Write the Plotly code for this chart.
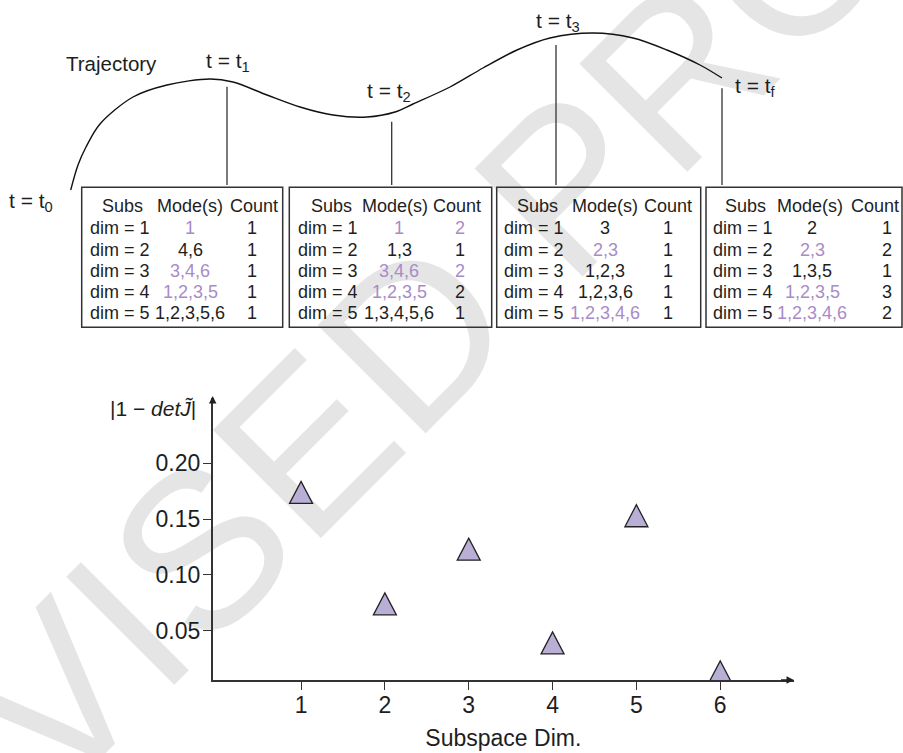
import plotly.graph_objects as go

W, H = 903, 753
FONT = "Liberation Sans, Arial, Helvetica, sans-serif"
INK = "#1e1e1e"
LINE = "#333333"
PURPLE = "#a98bc9"
TRI_FILL = "#b9aed6"

# ---- scatter data: reconstruction error per subspace dimension ----
subspace_dim = [1, 2, 3, 4, 5, 6]
det_error = [0.174, 0.074, 0.123, 0.039, 0.153, 0.013]
y_ticks = [0.05, 0.10, 0.15, 0.20]

# ---- trajectory snapshots and their subspace tables ----
time_labels = ["t = t<sub>1</sub>", "t = t<sub>2</sub>", "t = t<sub>3</sub>", "t = t<sub>f</sub>"]
dim_labels = ["dim = 1", "dim = 2", "dim = 3", "dim = 4", "dim = 5"]
header_labels = ["Subs", "Mode(s)", "Count"]

modes_t1 = ["1", "4,6", "3,4,6", "1,2,3,5", "1,2,3,5,6"]
modes_t2 = ["1", "1,3", "3,4,6", "1,2,3,5", "1,3,4,5,6"]
modes_t3 = ["3", "2,3", "1,2,3", "1,2,3,6", "1,2,3,4,6"]
modes_tf = ["2", "2,3", "1,3,5", "1,2,3,5", "1,2,3,4,6"]

counts_t1 = [1, 1, 1, 1, 1]
counts_t2 = [2, 1, 2, 2, 1]
counts_t3 = [1, 1, 1, 1, 1]
counts_tf = [1, 2, 1, 3, 2]

# recurring mode sets are highlighted
mode_hl_t1 = [True, False, True, True, False]
mode_hl_t2 = [True, False, True, True, False]
mode_hl_t3 = [False, True, False, False, True]
mode_hl_tf = [False, True, False, True, True]
count_hl_t2 = [True, False, True, False, False]
count_hl_none = [False] * 5

tables = [
    (modes_t1, counts_t1, mode_hl_t1, count_hl_none),
    (modes_t2, counts_t2, mode_hl_t2, count_hl_t2),
    (modes_t3, counts_t3, mode_hl_t3, count_hl_none),
    (modes_tf, counts_tf, mode_hl_tf, count_hl_none),
]

# ---- diagram layout (page pixel coordinates) ----
traj_x = [70.7, 78, 86, 100, 133, 167, 210, 233, 267, 300, 333, 367, 395, 413,
          450, 483, 517, 550, 593, 633, 667, 700, 722]
traj_y = [190, 165, 147, 124, 97, 85, 79, 82, 95, 107, 115, 117, 112, 104,
          87, 68, 50, 38, 33, 38, 50, 65, 78]

box_left = [81.7, 289.3, 496.7, 706.0]
box_right = [282.7, 491.7, 700.7, 902.0]
box_top, box_bottom = 187.3, 327.3
col_dim = [88.3, 296.0, 501.7, 710.7]
col_subs = [122.5, 331.7, 537.8, 745.3]
col_mode_hdr = [190.3, 395.0, 604.7, 809.5]
col_mode = [190.0, 399.0, 605.0, 812.0]
col_count_hdr = [253.8, 456.7, 668.3, 874.5]
col_count = [252.0, 460.0, 668.3, 886.7]
header_y = 206.0
row_y = [228.5, 249.8, 271.0, 292.2, 313.4]

connector_x = [227.0, 391.7, 556.0, 722.0]
connector_top = [86.7, 121.7, 45.0, 88.3]
time_label_pos = [(228, 62), (389, 92), (558, 22), (755, 87)]

watermark_center = (428, 322)


def px(x):
    return x / W


def py(y):
    return 1 - y / H


fig = go.Figure()

# watermark, drawn first so that everything else sits on top of it;
# the (invisible) carrier bar stays inside the page so its label is always rendered
wx, wy = watermark_center
fig.add_trace(go.Bar(
    x=[wx], y=[600], base=[wy - 300], width=[700],
    text=["REVISED PROOF"], textposition="inside", insidetextanchor="middle",
    textangle=-45, constraintext="none", cliponaxis=False,
    insidetextfont=dict(family=FONT, size=222, color="#e5e5e5"),
    marker=dict(color="rgba(0,0,0,0)", line=dict(width=0)),
    hoverinfo="skip", xaxis="x", yaxis="y", showlegend=False,
))

# trajectory curve
fig.add_trace(go.Scatter(
    x=traj_x, y=traj_y, mode="lines", line=dict(color="#111", width=1.4, shape="spline", smoothing=0.9),
    hoverinfo="skip", xaxis="x", yaxis="y", showlegend=False,
))

# data points (triangles are drawn as pixel-sized shapes anchored on these values)
fig.add_trace(go.Scatter(
    x=subspace_dim, y=det_error, mode="markers", xaxis="x2", yaxis="y2",
    marker=dict(size=20, opacity=0), showlegend=False,
    hovertemplate="dim %{x}: %{y:.3f}<extra></extra>",
))

shapes = []
for xv, yv in zip(subspace_dim, det_error):
    shapes.append(dict(
        type="path", xref="x2", yref="y2", xsizemode="pixel", ysizemode="pixel",
        xanchor=xv, yanchor=yv, path="M-11.5,-11 L11.5,-11 L0,11 Z",
        fillcolor=TRI_FILL, line=dict(color="#222", width=1.3), layer="above",
    ))

for i in range(4):
    shapes.append(dict(type="rect", xref="x", yref="y", x0=box_left[i], x1=box_right[i],
                       y0=box_top, y1=box_bottom, line=dict(color=LINE, width=1.5)))
    shapes.append(dict(type="line", xref="x", yref="y", x0=connector_x[i], x1=connector_x[i],
                       y0=connector_top[i], y1=185, line=dict(color=LINE, width=1.3)))

annotations = []


def label(text, x, y, size, color=INK, xanchor="center"):
    annotations.append(dict(
        text=text, x=px(x), y=py(y), xref="paper", yref="paper", showarrow=False,
        xanchor=xanchor, yanchor="middle", font=dict(family=FONT, size=size, color=color),
    ))


label("Trajectory", 111, 63, 20.5)
label("t = t<sub>0</sub>", 31, 202, 21)
for (lx, ly), txt in zip(time_label_pos, time_labels):
    label(txt, lx, ly, 21)

for i, (modes, counts, mhl, chl) in enumerate(tables):
    label(header_labels[0], col_subs[i], header_y, 18)
    label(header_labels[1], col_mode_hdr[i], header_y, 18)
    label(header_labels[2], col_count_hdr[i], header_y, 18)
    for r in range(5):
        label(dim_labels[r], col_dim[i], row_y[r], 18, xanchor="left")
        label(modes[r], col_mode[i], row_y[r], 18, PURPLE if mhl[r] else INK)
        label(str(counts[r]), col_count[i], row_y[r], 18, PURPLE if chl[r] else INK)

# y-axis label
label("|1 \u2212 <i>det</i><i>J\u0303</i>|", 153, 409, 21)

# axis arrowheads
annotations.append(dict(x=px(212.7), y=py(396), xref="paper", yref="paper", ax=0, ay=16,
                        showarrow=True, arrowhead=2, arrowsize=1, arrowwidth=1.5,
                        arrowcolor="#222", text=" "))
annotations.append(dict(x=px(794), y=py(680), xref="paper", yref="paper", ax=-16, ay=0,
                        showarrow=True, arrowhead=2, arrowsize=1, arrowwidth=1.5,
                        arrowcolor="#222", text=" "))

axis_common = dict(showgrid=False, zeroline=False, showline=True, linecolor=LINE, linewidth=1.5,
                   ticks="outside", ticklen=8, tickwidth=1.3, tickcolor=LINE,
                   tickfont=dict(family=FONT, size=23, color=INK), automargin=False)

fig.update_layout(
    template="none",
    width=W, height=H,
    margin=dict(l=0, r=0, t=0, b=0),
    paper_bgcolor="white", plot_bgcolor="rgba(0,0,0,0)",
    font=dict(family=FONT, color=INK),
    showlegend=False,
    xaxis=dict(domain=[0, 1], range=[0, W], visible=False, fixedrange=True),
    yaxis=dict(domain=[0, 1], range=[H, 0], visible=False, fixedrange=True),
    xaxis2=dict(domain=[px(212.7), px(794)], range=[-0.054, 6.88], anchor="y2",
                tickvals=subspace_dim, ticklabelstandoff=-4,
                title=dict(text="Subspace Dim.", font=dict(family=FONT, size=23, color=INK), standoff=13),
                **axis_common),
    yaxis2=dict(domain=[py(680), py(398)], range=[0.0057, 0.2586], anchor="x2",
                tickvals=y_ticks, tickformat=".2f", ticklabelstandoff=-2, **axis_common),
    shapes=shapes,
    annotations=annotations,
)

fig.write_html("out.html")
